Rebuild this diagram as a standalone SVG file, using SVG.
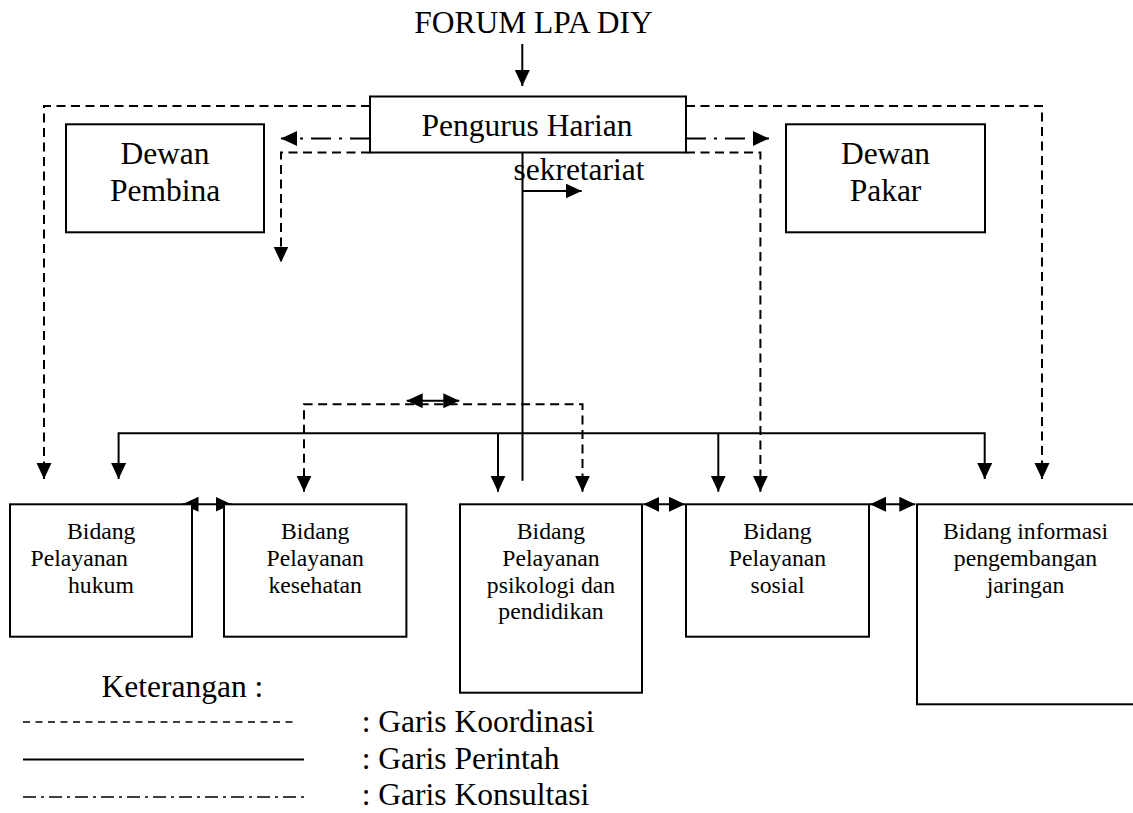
<svg xmlns="http://www.w3.org/2000/svg" width="1133" height="813" viewBox="0 0 1133 813">
<style>
  .box { fill: #fff; stroke: #000; stroke-width: 2; }
  .t { font-size: 31.5px; fill: #000; }
  .s { font-size: 23.7px; fill: #000; }
  .c { text-anchor: middle; }
  .solid { fill: none; stroke: #000; stroke-width: 2; }
  .dash { fill: none; stroke: #000; stroke-width: 2; stroke-dasharray: 9 5.5; }
  .dashdot { fill: none; stroke: #000; stroke-width: 2; stroke-dasharray: 20 8 3 8; }
</style>
<defs>
  <marker id="ah" markerUnits="userSpaceOnUse" markerWidth="17" markerHeight="16" refX="16" refY="7.5" orient="auto-start-reverse" viewBox="0 0 17 16">
    <path d="M0,0 L16,7.5 L0,15 z" fill="#000"/>
  </marker>
</defs>
<rect width="1133" height="813" fill="#fff"/>

<g id="connectors">
  <line class="solid" x1="522.3" y1="44" x2="522.3" y2="86" marker-end="url(#ah)"/>
  <line class="solid" x1="522.5" y1="152.5" x2="522.5" y2="480.7"/>
  <line class="solid" x1="522.5" y1="191" x2="581.7" y2="191" marker-end="url(#ah)"/>
  <path class="solid" d="M118.6,479 V433.3 H984.7 V479" marker-start="url(#ah)" marker-end="url(#ah)"/>
  <line class="solid" x1="498" y1="433.3" x2="498" y2="491.7" marker-end="url(#ah)"/>
  <line class="solid" x1="718.3" y1="433.3" x2="718.3" y2="491.7" marker-end="url(#ah)"/>
  <line class="solid" x1="406.7" y1="400.7" x2="459.3" y2="400.7" marker-start="url(#ah)" marker-end="url(#ah)"/>
  <line class="solid" x1="182.5" y1="504.3" x2="231.5" y2="504.3" marker-start="url(#ah)" marker-end="url(#ah)"/>
  <line class="solid" x1="643.3" y1="504.3" x2="685" y2="504.3" marker-start="url(#ah)" marker-end="url(#ah)"/>
  <line class="solid" x1="870" y1="504.3" x2="915.3" y2="504.3" marker-start="url(#ah)" marker-end="url(#ah)"/>
  <path class="dash" d="M370,106 H44 V479" marker-end="url(#ah)"/>
  <path class="dash" d="M686,106 H1042 V479" marker-end="url(#ah)"/>
  <path class="dash" d="M370,152.5 H281 V262.5" marker-end="url(#ah)"/>
  <path class="dash" d="M686,152.5 H760.4 V491.7" marker-end="url(#ah)"/>
  <path class="dash" d="M304,491.7 V404.3 H582.5 V491.7" marker-start="url(#ah)" marker-end="url(#ah)"/>
  <line class="dashdot" x1="370" y1="138.5" x2="281" y2="138.5" marker-end="url(#ah)"/>
  <line class="dashdot" x1="686" y1="138.5" x2="769" y2="138.5" marker-end="url(#ah)"/>
</g>

<g font-family="'Liberation Serif', Tinos, 'Times New Roman', 'DejaVu Serif', serif">
<g id="forum">
  <text class="t c" x="533.5" y="33">FORUM LPA DIY</text>
</g>
<g id="pengurus-harian">
  <rect class="box" x="370" y="96.5" width="316" height="56"/>
  <text class="t c" x="527" y="135.5">Pengurus Harian</text>
</g>
<g id="sekretariat">
  <text class="t c" x="579" y="179.5">sekretariat</text>
</g>
<g id="dewan-pembina">
  <rect class="box" x="66" y="124.3" width="198" height="108"/>
  <text class="t c" x="165" y="164">Dewan</text>
  <text class="t c" x="165" y="200.5">Pembina</text>
</g>
<g id="dewan-pakar">
  <rect class="box" x="786" y="124.3" width="199" height="108"/>
  <text class="t c" x="885.5" y="164">Dewan</text>
  <text class="t c" x="885.5" y="200.5">Pakar</text>
</g>

<g id="bidang-hukum">
  <rect class="box" x="10" y="504.3" width="182" height="132.4"/>
  <text class="s" x="67" y="539.3">Bidang</text>
  <text class="s" x="30.6" y="565.5">Pelayanan</text>
  <text class="s" x="68" y="592.7">hukum</text>
</g>
<g id="bidang-kesehatan">
  <rect class="box" x="224" y="504.3" width="182.4" height="132.4"/>
  <text class="s c" x="315.2" y="539.3">Bidang</text>
  <text class="s c" x="315.2" y="565.5">Pelayanan</text>
  <text class="s c" x="315.2" y="592.7">kesehatan</text>
</g>
<g id="bidang-psikologi">
  <rect class="box" x="460" y="504.3" width="182" height="188.4"/>
  <text class="s c" x="551" y="539.3">Bidang</text>
  <text class="s c" x="551" y="565.5">Pelayanan</text>
  <text class="s c" x="551" y="592.7">psikologi dan</text>
  <text class="s c" x="551" y="619.3">pendidikan</text>
</g>
<g id="bidang-sosial">
  <rect class="box" x="686" y="504.3" width="183" height="132.4"/>
  <text class="s c" x="777.5" y="539.3">Bidang</text>
  <text class="s c" x="777.5" y="565.5">Pelayanan</text>
  <text class="s c" x="777.5" y="592.7">sosial</text>
</g>
<g id="bidang-informasi">
  <rect class="box" x="917" y="504.3" width="240" height="200"/>
  <text class="s c" x="1025.5" y="539.3">Bidang informasi</text>
  <text class="s c" x="1025.5" y="565.5">pengembangan</text>
  <text class="s c" x="1025.5" y="592.7">jaringan</text>
</g>

<g id="legend">
  <text class="t" x="101.5" y="696.5">Keterangan :</text>
  <line x1="23" y1="722" x2="297" y2="722" stroke="#000" stroke-width="1.3" stroke-dasharray="7 5.5"/>
  <line x1="23" y1="759.5" x2="304" y2="759.5" stroke="#000" stroke-width="1.8"/>
  <line x1="23" y1="797" x2="304" y2="797" stroke="#000" stroke-width="1.3" stroke-dasharray="13 5 3 5"/>
  <text class="t" x="361.7" y="732.3">: Garis Koordinasi</text>
  <text class="t" x="361.7" y="769.3">: Garis Perintah</text>
  <text class="t" x="361.7" y="805">: Garis Konsultasi</text>
</g>
</g>
</svg>
